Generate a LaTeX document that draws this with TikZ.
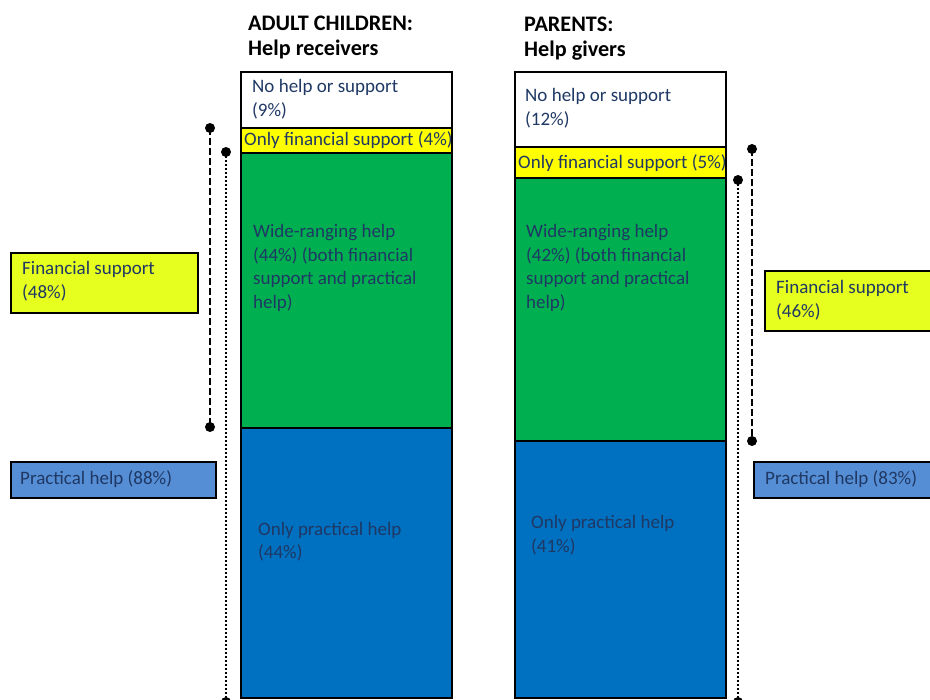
\documentclass[tikz,border=0pt]{standalone}
\usepackage{fontspec}
\setmainfont{Carlito}
\definecolor{baryellow}{HTML}{FFFF00}
\definecolor{bargreen}{HTML}{00B050}
\definecolor{barblue}{HTML}{0070C0}
\definecolor{boxyellow}{HTML}{E6FF1E}
\definecolor{boxblue}{HTML}{558ED5}
\definecolor{txtblue}{HTML}{1F3864}
\newcommand\lblfont{\fontsize{19}{23.5}\selectfont}
\newcommand\headfont{\bfseries\fontsize{22.2}{25.5}\selectfont}
\tikzset{
  part/.style={draw=black, line width=2pt, anchor=north west, inner sep=0pt, minimum width=211pt},
  txt/.style={anchor=base west, inner sep=0pt, align=left, text=txtblue, font=\lblfont},
  head/.style={anchor=base west, inner sep=0pt, align=left, font=\headfont},
  keybox/.style={draw=black, line width=2pt, anchor=north west, inner sep=0pt},
  finline/.style={line width=2pt, dash pattern=on 7pt off 3pt},
  pracline/.style={line width=2pt, dash pattern=on 2pt off 2pt},
}
\begin{document}
\begin{tikzpicture}[x=1pt, y=-1pt]
  \useasboundingbox (0,0) rectangle (930,700);
  \clip (0,0) rectangle (930,700);
  % headers (base = last line)
  \node[head] (lhead) at (248,56) {ADULT CHILDREN:\\Help receivers};
  \node[head] (rhead) at (524,57) {PARENTS:\\Help givers};

  % left bar
  \node[part, minimum height=56pt] (lwhite) at (240,71) {};
  \node[part, fill=baryellow, minimum height=25pt] (lyellow) at (240,127) {};
  \node[part, fill=bargreen, minimum height=275pt] (lgreen) at (240,152) {};
  \node[part, fill=barblue, minimum height=270pt] (lblue) at (240,427) {};
  \node[txt] (lwhitetxt) at (252,116.5) {No help or support\\(9\%)};
  \node[txt] (lyellowtxt) at (244,145.5) {Only financial support (4\%)};
  \node[txt] (lgreentxt) at (253,308.5) {Wide-ranging help\\(44\%) (both financial\\support and practical\\help)};
  \node[txt] (lbluetxt) at (258,558.5) {Only practical help\\(44\%)};

  % right bar
  \node[part, minimum height=75pt] (rwhite) at (514,71) {};
  \node[part, fill=baryellow, minimum height=31pt] (ryellow) at (514,146) {};
  \node[part, fill=bargreen, minimum height=263pt] (rgreen) at (514,177) {};
  \node[part, fill=barblue, minimum height=257pt] (rblue) at (514,440) {};
  \node[txt] (rwhitetxt) at (525,125.5) {No help or support\\(12\%)};
  \node[txt] (ryellowtxt) at (518,168.5) {Only financial support (5\%)};
  \node[txt] (rgreentxt) at (526,308.5) {Wide-ranging help\\(42\%) (both financial\\support and practical\\help)};
  \node[txt] (rbluetxt) at (531,552.5) {Only practical help\\(41\%)};

  % key boxes
  \node[keybox, fill=boxyellow, minimum width=187pt, minimum height=60pt] (lfin) at (10,252) {};
  \node[txt] (lfintxt) at (22,298.5) {Financial support\\(48\%)};
  \node[keybox, fill=boxblue, minimum width=205pt, minimum height=36pt] (lprac) at (10,461) {};
  \node[txt] (lpractxt) at (20,485) {Practical help (88\%)};
  \node[keybox, fill=boxyellow, minimum width=180pt, minimum height=60pt] (rfin) at (764,270) {};
  \node[txt] (rfintxt) at (776,317.5) {Financial support\\(46\%)};
  \node[keybox, fill=boxblue, minimum width=190pt, minimum height=36pt] (rprac) at (753,461) {};
  \node[txt] (rpractxt) at (765,485) {Practical help (83\%)};

  % brackets
  \coordinate (lfintop) at (210,128);
  \coordinate (lfinbot) at (210,427);
  \coordinate (lpractop) at (226,152);
  \coordinate (lpracbot) at (226,702);
  \coordinate (rfintop) at (752,149);
  \coordinate (rfinbot) at (752,441);
  \coordinate (rpractop) at (738,180);
  \coordinate (rpracbot) at (738,702);
  \draw[finline] (lfintop) -- (lfinbot);
  \draw[pracline] (lpractop) -- (lpracbot);
  \draw[finline] (rfintop) -- (rfinbot);
  \draw[pracline] (rpractop) -- (rpracbot);
  \foreach \p in {lfintop, lfinbot, lpractop, lpracbot, rfintop, rfinbot, rpractop, rpracbot}
    \fill (\p) circle (5pt);
\end{tikzpicture}
\end{document}
